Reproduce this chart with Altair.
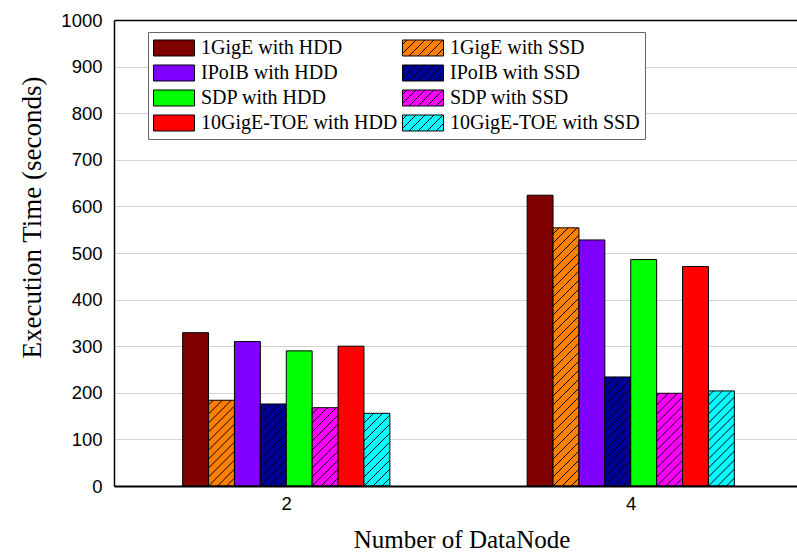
import altair as alt
import pandas as pd

# ---------------- data ----------------
groups = ["2", "4"]
series = ["1GigE with HDD", "1GigE with SSD", "IPoIB with HDD", "IPoIB with SSD",
          "SDP with HDD", "SDP with SSD", "10GigE-TOE with HDD", "10GigE-TOE with SSD"]
colors = ["#800000", "#ff8000", "#8000ff", "#000099",
          "#00ff00", "#ff00ff", "#ff0000", "#00ffff"]
hatched = [False, True, False, True, False, True, False, True]
values_2 = [329, 184, 310, 176, 290, 168, 300, 156]
values_4 = [624, 554, 528, 234, 486, 199, 471, 204]
y_ticks = list(range(0, 1001, 100))

# ---------------- layout constants ----------------
W, H = 683, 466
PX = 344.5            # pixels per group step
PY = H / 1000.0       # pixels per second
BW = 25.9 / PX        # bar width in group units
X_MIN = -0.5
X_MAX = X_MIN + W / PX
HATCH = 9.0           # hatch spacing in px

rows = []
for gi, vals in enumerate([values_2, values_4]):
    for si, v in enumerate(vals):
        xl = gi + (si - 4) * BW
        rows.append(dict(group=groups[gi], series=series[si], value=v, base=0,
                         xl=xl, xr=xl + BW, xc=xl + BW / 2, hatched=hatched[si]))
bars = pd.DataFrame(rows)

# hatch segments (45 degree "/" lines) clipped to each hatched bar
hrows = []
bw_px = BW * PX
for r in rows:
    if not r["hatched"]:
        continue
    h_px = r["value"] * PY
    k = -int(bw_px // HATCH) - 1
    while True:
        c = k * HATCH
        if c > h_px:
            break
        xs = max(0.0, -c)
        xe = min(bw_px, h_px - c)
        if xe - xs > 0.4:
            hrows.append(dict(x1=r["xl"] + xs / PX, x2=r["xl"] + xe / PX,
                              y1=(xs + c) / PY, y2=(xe + c) / PY))
        k += 1
hatch_df = pd.DataFrame(hrows)

# legend symbol paths (unit box [-1,1] scaled by sqrt(size)/2)
HH = 0.39
rect_path = f"M-1,-{HH}H1V{HH}H-1Z"
step = HATCH / 20.5
segs = []
c = -1 - HH + step / 2
while c < 1 + HH:
    xs = max(-1.0, c - HH)
    xe = min(1.0, c + HH)
    if xe - xs > 0.05:
        segs.append(f"M{xs:.3f},{c - xs:.3f}L{xe:.3f},{c - xe:.3f}")
    c += step
hatch_path = rect_path + "".join(segs)
shapes = [hatch_path if h else rect_path for h in hatched]

# ---------------- chart ----------------
x_scale = alt.Scale(domain=[X_MIN, X_MAX], nice=False, zero=False)
y_scale = alt.Scale(domain=[0, 1000], nice=False)
fill_scale = alt.Scale(domain=series, range=colors)
shape_scale = alt.Scale(domain=series, range=shapes)
stroke_scale = alt.Scale(domain=series, range=["black"] * len(series))

label_expr = "[" + ",".join(f"'{g}'" for g in groups) + "][round(datum.value)]"

x_axis = alt.Axis(values=[0, 1], labelExpr=label_expr, title="Number of DataNode",
                  labelFont="Liberation Sans", labelFontSize=18.5, labelColor="black",
                  labelPadding=8, ticks=False, grid=False,
                  domainColor="black", domainWidth=2,
                  titleFont="Liberation Serif", titleFontSize=25, titleFontWeight="normal",
                  titleColor="black", titleX=347.5, titleY=61, titleBaseline="alphabetic",
                  titleAnchor="start", titleAlign="center", zindex=1)
y_axis = alt.Axis(values=y_ticks, format="d", title="Execution Time (seconds)",
                  labelFont="Liberation Sans", labelFontSize=18.5, labelColor="black",
                  labelPadding=12, ticks=False,
                  domainColor="black", domainWidth=1.5,
                  grid=True,
                  gridColor={"condition": {"test": "datum.value >= 1000", "value": "black"},
                             "value": "#d4d4d4"},
                  gridWidth={"condition": {"test": "datum.value >= 1000", "value": 1.5},
                             "value": 1},
                  titleFont="Liberation Serif", titleFontSize=27, titleFontWeight="normal",
                  titleColor="black", titleAngle=270, titleX=-82, titleY=197,
                  titleBaseline="middle", titleAlign="center")

legend = alt.Legend(orient="none", legendX=34, legendY=12, columns=2, direction="horizontal",
                    title=None,
                    labelFont="Liberation Serif", labelFontSize=20, labelColor="black",
                    labelOffset=6, symbolSize=1681, symbolStrokeColor="black",
                    symbolStrokeWidth=1, symbolOpacity=1, clipHeight=22,
                    strokeColor="#666666", fillColor="white", padding=5,
                    rowPadding=3, columnPadding=4, labelLimit=400)

pts = alt.Chart(bars).mark_point(filled=True, size=0, opacity=1).encode(
    x=alt.X("xc:Q", scale=x_scale, axis=x_axis),
    y=alt.Y("value:Q", scale=y_scale, axis=y_axis),
    fill=alt.Fill("series:N", scale=fill_scale, legend=legend),
    shape=alt.Shape("series:N", scale=shape_scale, legend=legend),
    stroke=alt.Stroke("series:N", scale=stroke_scale, legend=legend),
)

bar = alt.Chart(bars).mark_bar(stroke="black", strokeWidth=1).encode(
    x=alt.X("xl:Q", scale=x_scale, axis=x_axis),
    x2="xr:Q",
    y=alt.Y("value:Q", scale=y_scale, axis=y_axis),
    y2="base:Q",
    fill=alt.Fill("series:N", scale=fill_scale, legend=None),
)

hatch = alt.Chart(hatch_df).mark_rule(color="black", strokeWidth=1).encode(
    x=alt.X("x1:Q", scale=x_scale, axis=x_axis),
    x2="x2:Q",
    y=alt.Y("y1:Q", scale=y_scale, axis=y_axis),
    y2="y2:Q",
)

chart = alt.layer(pts, bar, hatch).properties(
    width=W, height=H,
    padding={"left": 114, "top": 20, "right": 0, "bottom": 66},
    autosize=alt.AutoSizeParams(type="none"),
    background="white",
).configure_view(stroke=None)

chart.save("out.html", embed_options={"renderer": "svg", "actions": False})
